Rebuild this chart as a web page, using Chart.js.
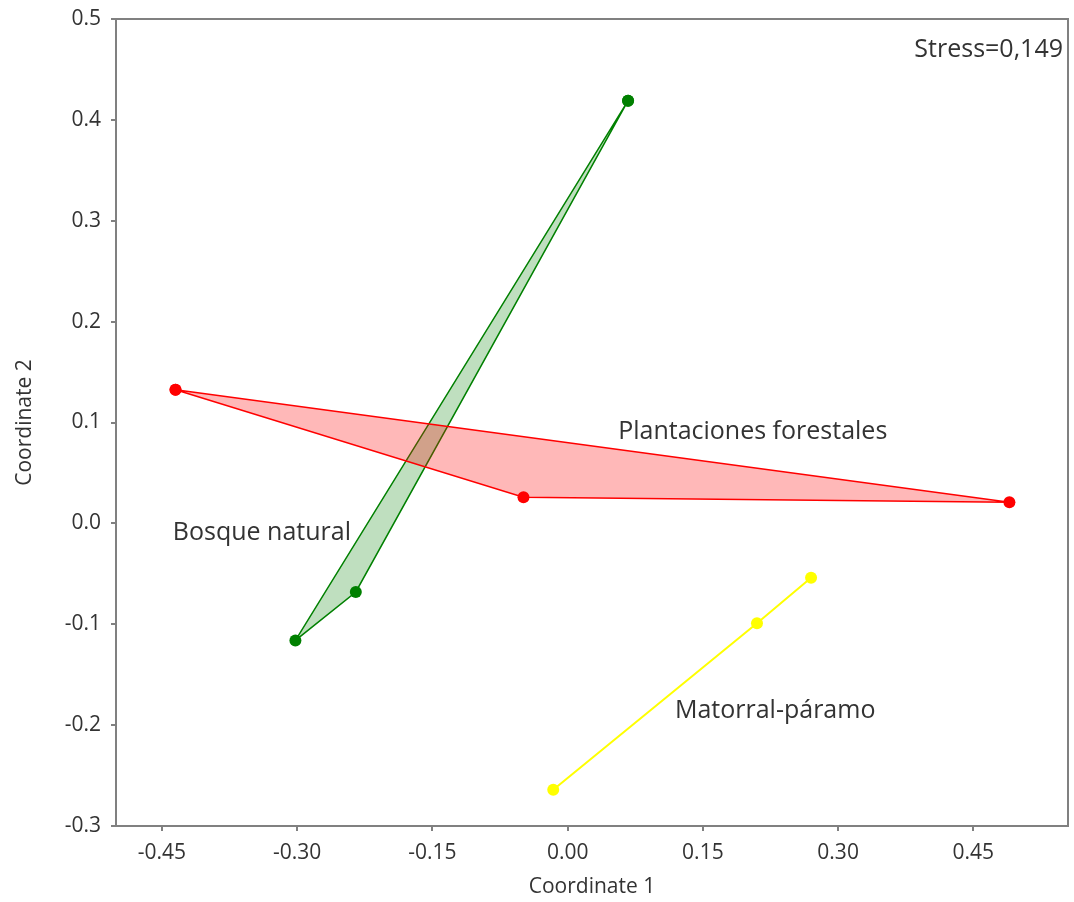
<!DOCTYPE html>
<html>
<head>
<meta charset="utf-8">
<script src="https://cdn.jsdelivr.net/npm/chart.js@4/dist/chart.umd.min.js"></script>
<style>
  body { margin: 0; background: #fff; }
  canvas { display: block; }
</style>
</head>
<body>
<canvas id="nmds" width="1074" height="902"></canvas>
<script>
// NMDS ordination - group hulls
const groupNames = ['Bosque natural', 'Plantaciones forestales', 'Matorral-páramo'];

const bosqueX = [0.067, -0.235, -0.302];
const bosqueY = [0.419, -0.068, -0.116];
const plantX = [-0.435, 0.490, -0.049];
const plantY = [0.1325, 0.021, 0.026];
const matorralX = [-0.016, 0.210, 0.270];
const matorralY = [-0.264, -0.099, -0.054];

const xTicks = [-0.45, -0.30, -0.15, 0.00, 0.15, 0.30, 0.45];
const yTicks = [-0.3, -0.2, -0.1, 0.0, 0.1, 0.2, 0.3, 0.4, 0.5];

const stressText = 'Stress=0,149';

// where the group names sit (data coords)
const labelX = [-0.438, 0.056, 0.119];
const labelY = [-0.009, 0.091, -0.186];

const FONT = '"Open Sans", "Noto Sans", sans-serif';

function pts(xs, ys, close) {
  const out = xs.map((v, i) => ({ x: v, y: ys[i] }));
  if (close) out.push({ x: xs[0], y: ys[0] });
  return out;
}

const annotate = {
  id: 'annotate',
  afterDatasetsDraw(chart) {
    const { ctx, chartArea: a, scales: { x, y } } = chart;
    ctx.save();
    ctx.strokeStyle = '#808080';
    ctx.lineWidth = 2;
    ctx.strokeRect(a.left, a.top, a.right - a.left, a.bottom - a.top);
    ctx.font = '25px ' + FONT;
    ctx.fillStyle = '#333';
    ctx.textBaseline = 'middle';
    ctx.textAlign = 'left';
    groupNames.forEach((n, i) => {
      ctx.fillText(n, x.getPixelForValue(labelX[i]), y.getPixelForValue(labelY[i]));
    });
    ctx.textAlign = 'right';
    ctx.fillText(stressText, a.right - 5, a.top + 31);
    ctx.restore();
  }
};

const ctx = document.getElementById('nmds').getContext('2d');
new Chart(ctx, {
  type: 'scatter',
  data: {
    datasets: [
      {
        label: groupNames[1],
        data: pts(plantX, plantY, true),
        showLine: true,
        fill: 'shape',
        tension: 0,
        borderColor: '#ff0000',
        backgroundColor: 'rgba(255,0,0,0.28)',
        borderWidth: 1.5,
        pointRadius: 6,
        pointBackgroundColor: '#ff0000',
        pointBorderWidth: 0
      },
      {
        label: groupNames[0],
        data: pts(bosqueX, bosqueY, true),
        showLine: true,
        fill: 'shape',
        tension: 0,
        borderColor: '#008000',
        backgroundColor: 'rgba(0,128,0,0.25)',
        borderWidth: 1.5,
        pointRadius: 6,
        pointBackgroundColor: '#008000',
        pointBorderWidth: 0
      },
      {
        label: groupNames[2],
        data: pts(matorralX, matorralY, false),
        showLine: true,
        fill: false,
        tension: 0,
        borderColor: '#ffff00',
        borderWidth: 2,
        pointRadius: 6,
        pointBackgroundColor: '#ffff00',
        pointBorderWidth: 0
      }
    ]
  },
  options: {
    responsive: false,
    animation: false,
    layout: { padding: { top: 19, right: 3, left: 0, bottom: 0 } },
    plugins: {
      legend: { display: false },
      tooltip: { enabled: false }
    },
    scales: {
      x: {
        type: 'linear',
        min: -0.501,
        max: 0.555,
        afterBuildTicks: s => { s.ticks = xTicks.map(v => ({ value: v })); },
        afterFit: s => { s.height = 76; s.paddingLeft = 0; s.paddingRight = 0; },
        ticks: {
          color: '#333',
          font: { family: FONT, size: 21 },
          padding: 9,
          maxRotation: 0,
          callback: v => v.toFixed(2)
        },
        grid: { drawOnChartArea: false, drawTicks: true, tickLength: 5, color: '#808080', lineWidth: 2 },
        border: { display: false },
        title: {
          display: true,
          text: 'Coordinate 1',
          color: '#333',
          font: { family: FONT, size: 21 },
          padding: { top: 2, bottom: 2 }
        }
      },
      y: {
        type: 'linear',
        min: -0.3,
        max: 0.5,
        afterBuildTicks: s => { s.ticks = yTicks.map(v => ({ value: v })); },
        afterFit: s => { s.width = 116; s.paddingTop = 0; s.paddingBottom = 0; },
        ticks: {
          color: '#333',
          font: { family: FONT, size: 21 },
          padding: 10,
          callback: v => v.toFixed(1)
        },
        grid: { drawOnChartArea: false, drawTicks: true, tickLength: 5, color: '#808080', lineWidth: 2 },
        border: { display: false },
        title: {
          display: true,
          text: 'Coordinate 2',
          color: '#333',
          font: { family: FONT, size: 21 },
          padding: { top: 12, bottom: 4 }
        }
      }
    }
  },
  plugins: [annotate]
});
</script>
</body>
</html>
